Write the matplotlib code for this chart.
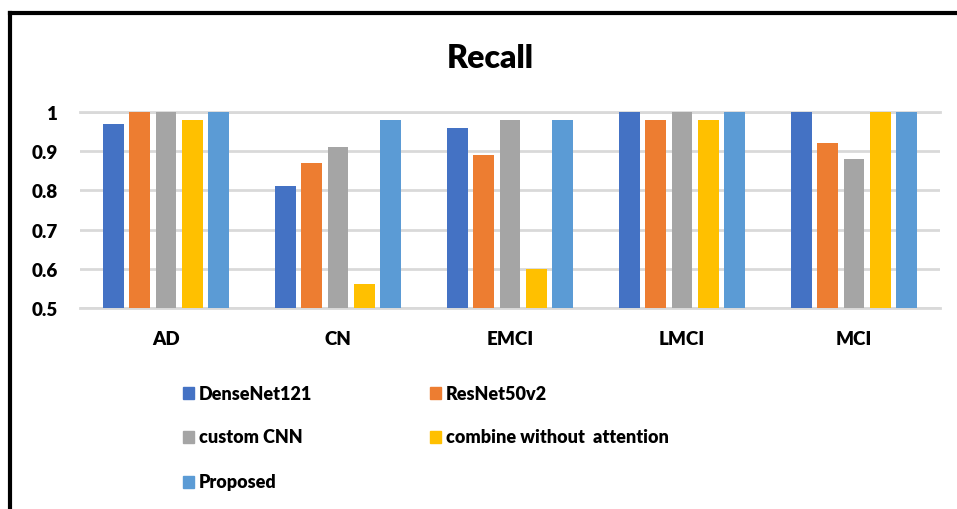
import numpy as np
import matplotlib
matplotlib.use("Agg")
import matplotlib.pyplot as plt
from matplotlib.lines import Line2D

# Datos
categorias = ["AD", "CN", "EMCI", "LMCI", "MCI"]
modelos = ["DenseNet121", "ResNet50v2", "custom CNN",
           "combine without  attention", "Proposed"]
densenet = [0.97, 0.81, 0.96, 1.00, 1.00]
resnet = [1.00, 0.87, 0.89, 0.98, 0.92]
custom_cnn = [1.00, 0.91, 0.98, 1.00, 0.88]
sin_atencion = [0.98, 0.56, 0.60, 0.98, 1.00]
propuesto = [1.00, 0.98, 0.98, 1.00, 1.00]
yticks = [0.5, 0.6, 0.7, 0.8, 0.9, 1.0]
ytick_labels = ["0.5", "0.6", "0.7", "0.8", "0.9", "1"]

colores = ["#4472C4", "#ED7D31", "#A5A5A5", "#FFC000", "#5B9BD5"]
series = [densenet, resnet, custom_cnn, sin_atencion, propuesto]

plt.rcParams["font.family"] = ["Lato", "DejaVu Sans"]
PESO = "heavy"

W, H = 957, 510
fig = plt.figure(figsize=(W / 100, H / 100), dpi=100)
ax = fig.add_axes([80 / W, 1 - 309 / H, 860 / W, 196 / H])

x = np.arange(len(categorias))
ancho = 0.122
paso = 0.153
for i, (vals, c) in enumerate(zip(series, colores)):
    ax.bar(x + (i - 2) * paso, np.array(vals) - 0.5, ancho, bottom=0.5,
           color=c, zorder=3)

ax.set_xlim(-0.5, len(categorias) - 0.5)
ax.set_ylim(0.5, 1.0)
ax.set_yticks(yticks)
ax.set_yticklabels(ytick_labels, fontweight=PESO)
ax.set_xticks(x)
ax.set_xticklabels(categorias, fontweight=PESO)
ax.tick_params(length=0, labelsize=13.5, colors="black")
ax.tick_params(axis="y", pad=16)
ax.tick_params(axis="x", pad=16)
ax.grid(axis="y", color="#D9D9D9", linewidth=2, zorder=0)
ax.set_axisbelow(True)
for s in ax.spines.values():
    s.set_visible(False)
ax.axhline(0.5, color="#D9D9D9", linewidth=2, zorder=0, clip_on=False)
ax.axhline(1.0, color="#D9D9D9", linewidth=2, zorder=0, clip_on=False)

fig.text(490 / W, 1 - 58 / H, "Recall", ha="center", va="center",
         fontsize=23, fontweight=PESO)

# Leyenda manual en dos columnas
entradas = [(183, 394), (430, 394), (183, 438), (430, 438), (183, 483)]
for (px, py), nombre, c in zip(entradas, modelos, colores):
    fig.patches.append(plt.Rectangle((px / W, 1 - (py + 6) / H), 11 / W, 12 / H,
                                     transform=fig.transFigure, color=c))
    fig.text((px + 16) / W, 1 - py / H, nombre, ha="left", va="center",
             fontsize=13, fontweight=PESO)

# Marco negro (solo izquierda y arriba visibles)
fig.add_artist(Line2D([10 / W, 10 / W], [0, 1 - 14 / H], color="black",
                      linewidth=3, transform=fig.transFigure))
fig.add_artist(Line2D([10 / W, 1], [1 - 14 / H, 1 - 14 / H], color="black",
                      linewidth=3, transform=fig.transFigure))

fig.savefig("out.png", dpi=100)
